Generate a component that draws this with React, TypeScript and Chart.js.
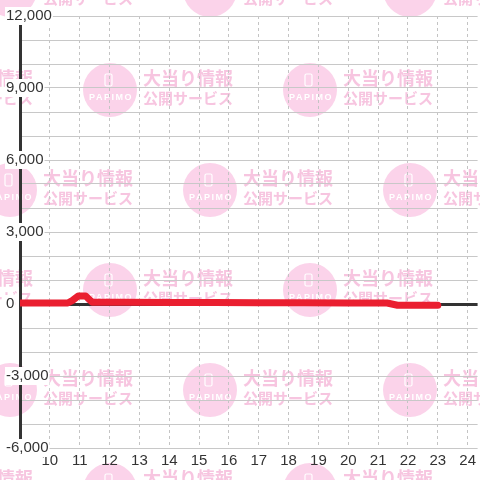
import React, { useEffect, useRef } from 'react';
import { Chart, registerables } from 'chart.js';

Chart.register(...registerables);

// time of day (hours) and medal difference
const hours = [9, 10.6, 10.75, 10.95, 11.2, 11.42, 12.5, 14, 15.5, 17, 18.5, 20, 21.3, 21.65, 23];
const diff = [40, 40, 140, 330, 330, 70, 70, 60, 60, 50, 50, 40, 40, -50, -50];

const xLabels = [10, 11, 12, 13, 14, 15, 16, 17, 18, 19, 20, 21, 22, 23, 24];
const yLabels = [-6000, -3000, 0, 3000, 6000, 9000, 12000];

const watermark = {
  id: 'watermark',
  beforeDraw(chart: any) {
    const ctx = chart.ctx as CanvasRenderingContext2D;
    ctx.save();
    ctx.fillStyle = '#ffffff';
    ctx.fillRect(0, 0, chart.width, chart.height);
    for (let r = 0; r < 6; r++) {
      const cy = -10 + r * 100;
      const off = r % 2 ? 110 : 10;
      for (let k = -1; k < 3; k++) {
        const cx = off + k * 200;
        ctx.fillStyle = '#fbd3ea';
        ctx.beginPath();
        ctx.arc(cx, cy, 27, 0, Math.PI * 2);
        ctx.fill();
        // phone icon
        ctx.strokeStyle = '#ffffff';
        ctx.lineWidth = 1.2;
        ctx.beginPath();
        (ctx as any).roundRect(cx - 5, cy - 16, 7, 12, 1.5);
        ctx.stroke();
        ctx.fillStyle = '#ffffff';
        ctx.font = 'bold 9px "Liberation Sans"';
        (ctx as any).letterSpacing = '1.5px';
        ctx.textAlign = 'center';
        ctx.textBaseline = 'middle';
        ctx.fillText('PAPIMO', cx + 1, cy + 8);
        (ctx as any).letterSpacing = '0px';
        ctx.fillStyle = '#f7c5e0';
        ctx.textAlign = 'left';
        ctx.font = 'bold 18px "Noto Sans CJK JP"';
        ctx.fillText('大当り情報', cx + 33, cy - 12);
        ctx.font = 'bold 15px "Noto Sans CJK JP"';
        ctx.fillText('公開サービス', cx + 33, cy + 8);
      }
    }
    ctx.restore();
  },
};

export default function App() {
  const ref = useRef<HTMLCanvasElement | null>(null);
  useEffect(() => {
    if (!ref.current) return;
    const tickFont = { family: '"Liberation Sans", Arial, sans-serif', size: 15 };
    const chart = new Chart(ref.current, {
      type: 'line',
      data: {
        datasets: [
          {
            data: hours.map((h, i) => ({ x: h, y: diff[i] })),
            borderColor: '#ea1f30',
            borderWidth: 7,
            pointRadius: 0,
            fill: false,
            tension: 0,
            borderCapStyle: 'round',
            borderJoinStyle: 'round',
          },
        ],
      },
      options: {
        animation: false,
        responsive: false,
        layout: { padding: { top: 16, left: 0, right: 0, bottom: 0 } },
        plugins: { legend: { display: false }, tooltip: { enabled: false } },
        scales: {
          x: {
            type: 'linear',
            min: 9,
            max: 24.333,
            ticks: {
              stepSize: 1,
              includeBounds: false,
              autoSkip: false,
              maxRotation: 0,
              padding: 4,
              color: '#333',
              font: tickFont,
              callback: (v: any) => (xLabels.includes(Math.round(v * 1000) / 1000) ? String(Math.round(v)) : ''),
            },
            grid: { color: '#c4c4c4', lineWidth: 1, drawTicks: false },
            border: { display: false, dash: [3, 3] },
            afterFit: (s: any) => {
              s.height = 32;
            },
          },
          y: {
            type: 'linear',
            min: -6000,
            max: 12000,
            ticks: {
              stepSize: 1000,
              autoSkip: false,
              mirror: true,
              crossAlign: 'near',
              padding: -14,
              color: '#333',
              font: tickFont,
              showLabelBackdrop: true,
              backdropColor: (c: any) => (c.tick && yLabels.includes(c.tick.value) ? '#ffffff' : 'rgba(0,0,0,0)'),
              backdropPadding: { x: 1, y: 0 },
              callback: (v: any) => (yLabels.includes(v) ? Number(v).toLocaleString('en-US') : ''),
            },
            grid: {
              color: (c: any) => (c.tick && c.tick.value === 0 ? '#333' : '#c8c8c8'),
              lineWidth: (c: any) => (c.tick && c.tick.value === 0 ? 3 : 1),
              drawTicks: false,
            },
            border: { color: '#333', width: 3 },
            afterFit: (s: any) => {
              s.width = 20;
            },
          },
        },
      } as any,
      plugins: [watermark],
    });
    return () => chart.destroy();
  }, []);
  return (
    <div style={{ position: 'fixed', left: 0, top: 0, width: 480, height: 480, background: '#fff' }}>
      <canvas ref={ref} width={480} height={480} style={{ display: 'block' }} />
    </div>
  );
}
